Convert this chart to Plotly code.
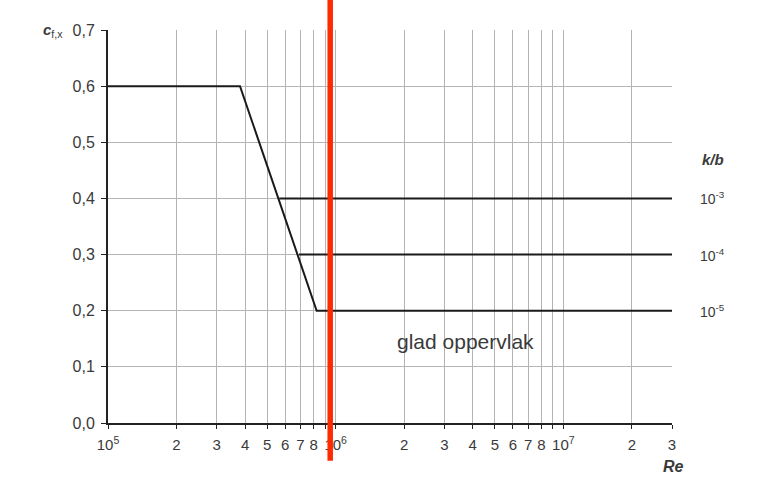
import plotly.graph_objects as go

# ---- data ----
re_smooth = [1e5, 3.8e5, 8.25e5, 3e7]
cf_smooth = [0.6, 0.6, 0.2, 0.2]
re_kb4 = [6.9e5, 3e7]
cf_kb4 = [0.3, 0.3]
re_kb3 = [5.65e5, 3e7]
cf_kb3 = [0.4, 0.4]
kb_labels = ["10<sup>-3</sup>", "10<sup>-4</sup>", "10<sup>-5</sup>"]
kb_levels = [0.4, 0.3, 0.2]
re_marker = 9.46e5

x_tickvals = [1e5, 2e5, 3e5, 4e5, 5e5, 6e5, 7e5, 8e5, 9e5,
              1e6, 2e6, 3e6, 4e6, 5e6, 6e6, 7e6, 8e6, 9e6,
              1e7, 2e7, 3e7]
x_ticktext = ["10<sup>5</sup>", "2", "3", "4", "5", "6", "7", "8", "",
              "10<sup>6</sup>", "2", "3", "4", "5", "6", "7", "8", "",
              "10<sup>7</sup>", "2", "3"]
y_tickvals = [0.0, 0.1, 0.2, 0.3, 0.4, 0.5, 0.6, 0.7]
y_ticktext = ["0,0", "0,1", "0,2", "0,3", "0,4", "0,5", "0,6", "0,7"]

FONT = "Liberation Sans, Arial, sans-serif"
TXT = "#3a3a3a"

fig = go.Figure()
line_style = dict(color="#1a1a1a", width=2)
for xs, ys in [(re_smooth, cf_smooth), (re_kb4, cf_kb4), (re_kb3, cf_kb3)]:
    fig.add_trace(go.Scatter(x=xs, y=ys, mode="lines", line=line_style,
                             showlegend=False, hoverinfo="skip", cliponaxis=False))

# red vertical marker
fig.add_shape(type="line", xref="x", yref="paper", x0=re_marker, x1=re_marker,
              y0=-0.096, y1=1.08, line=dict(color="#ff2a00", width=5.5), layer="above")

def ann(x, y, text, size, xref="paper", yref="paper"):
    fig.add_annotation(xref=xref, yref=yref, x=x, y=y, text=text, showarrow=False,
                       xanchor="center", yanchor="middle",
                       font=dict(family=FONT, size=size, color=TXT))

# right-hand labels
ann(1.072, 0.47, "<b><i>k/b</i></b>", 15, yref="y")
for lab, lev in zip(kb_labels, kb_levels):
    ann(1.072, lev, lab, 14, yref="y")

# in-plot text
ann(0.633, 0.1445, "glad oppervlak", 21, yref="y")

# axis titles
ann(-0.097, 1.0, "<b><i>c</i></b><sub>f,x</sub>", 15)
ann(1.002, -0.111, "<b><i>Re</i></b>", 16)

fig.update_layout(
    width=757, height=480,
    margin=dict(l=108, r=85, t=29.5, b=56.7),
    paper_bgcolor="white", plot_bgcolor="white",
    font=dict(family=FONT, size=15, color=TXT),
    xaxis=dict(type="log", range=[5, 7.4771], tickvals=x_tickvals, ticktext=x_ticktext,
               showgrid=True, gridcolor="#b4b4b4", gridwidth=1,
               showline=True, linecolor="#222222", linewidth=2,
               ticks="outside", ticklen=4, tickcolor="#222222", ticklabelstandoff=3,
               tickfont=dict(size=15, color=TXT), zeroline=False),
    yaxis=dict(range=[0, 0.7], tickvals=y_tickvals, ticktext=y_ticktext,
               showgrid=True, gridcolor="#b4b4b4", gridwidth=1,
               showline=True, linecolor="#222222", linewidth=2,
               ticks="outside", ticklen=5, tickcolor="#222222", ticklabelstandoff=3,
               tickfont=dict(size=16, color=TXT), zeroline=False),
)

fig.write_html("out.html")
